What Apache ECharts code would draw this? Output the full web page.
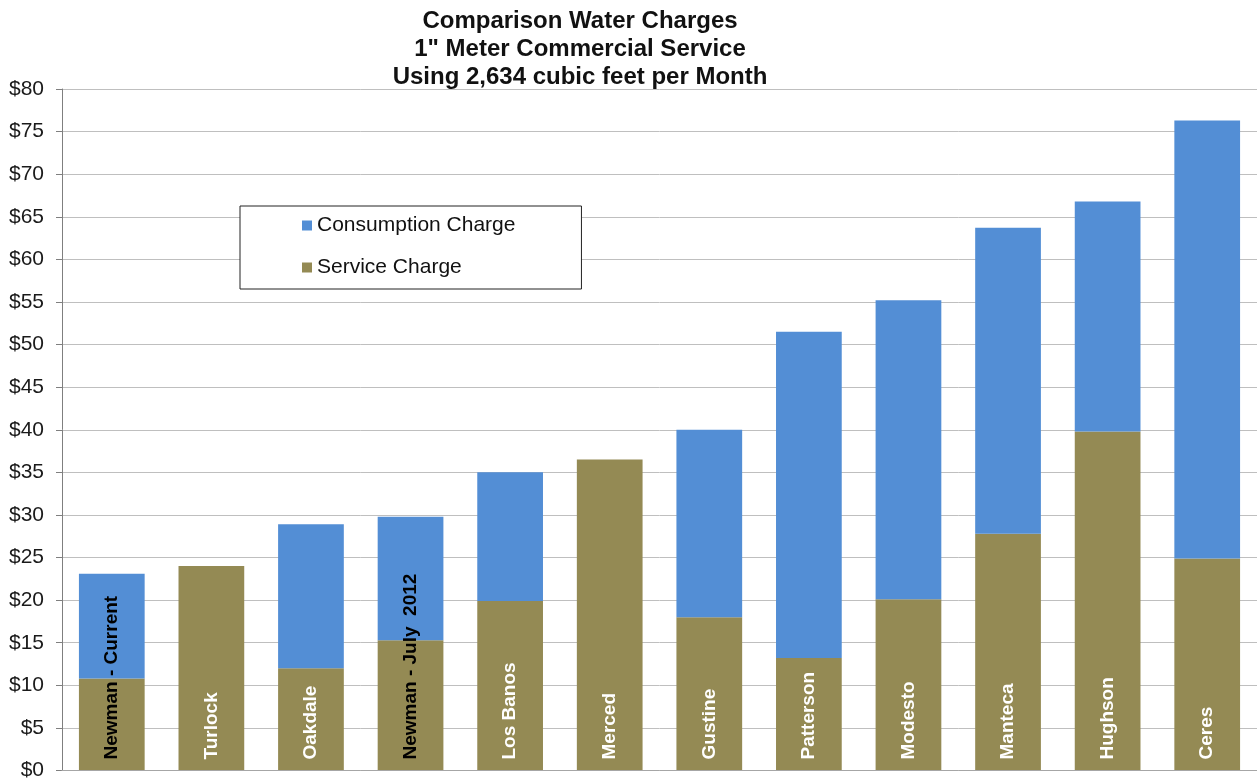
<!DOCTYPE html>
<html>
<head>
<meta charset="utf-8">
<title>Comparison Water Charges</title>
<script src="https://cdn.jsdelivr.net/npm/echarts@6/dist/echarts.min.js"></script>
<style>
  html, body { margin: 0; padding: 0; background: #ffffff; }
  #chart { width: 1257px; height: 781px; }
</style>
</head>
<body>
<div id="chart"></div>
<script>
// Cities compared, lowest to highest monthly bill
const categories = ['Newman - Current', 'Turlock', 'Oakdale', 'Newman - July  2012', 'Los Banos', 'Merced',
  'Gustine', 'Patterson', 'Modesto', 'Manteca', 'Hughson', 'Ceres'];

// Fixed monthly service charge ($)
const serviceCharge = [10.8, 24.0, 12.0, 15.3, 19.9, 36.5, 18.0, 13.2, 20.1, 27.8, 39.8, 24.9];

// Consumption charge for 2,634 cubic feet ($)
const consumptionCharge = [12.3, 0, 16.9, 14.5, 15.1, 0, 22.0, 38.3, 35.1, 35.9, 27.0, 51.4];

// Value axis ticks
const yMin = 0, yMax = 80, yStep = 5;

const titleLines = ['Comparison Water Charges', '1" Meter Commercial Service', 'Using 2,634 cubic feet per Month'];

const FONT = '"Liberation Sans", Arial, Helvetica, sans-serif';
const BLUE = '#538ED5';
const OLIVE = '#948A54';

const chart = echarts.init(document.getElementById('chart'), null, { renderer: 'canvas' });

chart.setOption({
  backgroundColor: '#ffffff',
  animation: false,
  title: {
    text: titleLines.join('\n'),
    left: 575,
    textAlign: 'center',
    top: 2,
    textStyle: {
      fontFamily: FONT,
      fontWeight: 'bold',
      fontSize: 24,
      lineHeight: 28,
      color: '#111111'
    }
  },
  legend: {
    orient: 'vertical',
    left: 240,
    top: 206,
    data: ['Consumption Charge', 'Service Charge'],
    icon: 'rect',
    itemWidth: 10,
    itemHeight: 10,
    itemGap: 21,
    padding: [9, 66, 11, 62],
    borderColor: '#222222',
    borderWidth: 1,
    backgroundColor: '#ffffff',
    textStyle: { fontFamily: FONT, fontSize: 21, color: '#111111' }
  },
  grid: { left: 62, right: 0, top: 89, bottom: 10, containLabel: false },
  xAxis: {
    type: 'category',
    data: categories,
    axisLine: { show: true, lineStyle: { color: '#a6a6a6', width: 1 } },
    axisTick: { show: false },
    splitLine: { show: false },
    axisLabel: {
      inside: true,
      rotate: 90,
      margin: 11,
      interval: 0,
      formatter: function (v) {
        return (v.indexOf('Newman') === 0 ? '{dark|' : '{light|') + v + '}';
      },
      rich: {
        dark: { color: '#000000', fontFamily: FONT, fontWeight: 'bold', fontSize: 19 },
        light: { color: '#ffffff', fontFamily: FONT, fontWeight: 'bold', fontSize: 19 }
      }
    },
    z: 10
  },
  yAxis: {
    type: 'value',
    min: yMin,
    max: yMax,
    interval: yStep,
    axisLine: { show: true, lineStyle: { color: '#7f7f7f', width: 1 } },
    axisTick: { show: true, length: 6, lineStyle: { color: '#7f7f7f' } },
    splitLine: { show: true, lineStyle: { color: '#bfbfbf', width: 1 } },
    axisLabel: {
      margin: 18,
      fontFamily: FONT,
      fontSize: 21,
      color: '#1a1a1a',
      formatter: function (v) { return '$' + v; }
    }
  },
  series: [
    {
      name: 'Service Charge',
      type: 'bar',
      stack: 'total',
      barWidth: '66%',
      itemStyle: { color: OLIVE },
      data: serviceCharge
    },
    {
      name: 'Consumption Charge',
      type: 'bar',
      stack: 'total',
      barWidth: '66%',
      itemStyle: { color: BLUE },
      data: consumptionCharge
    }
  ]
});
</script>
</body>
</html>
